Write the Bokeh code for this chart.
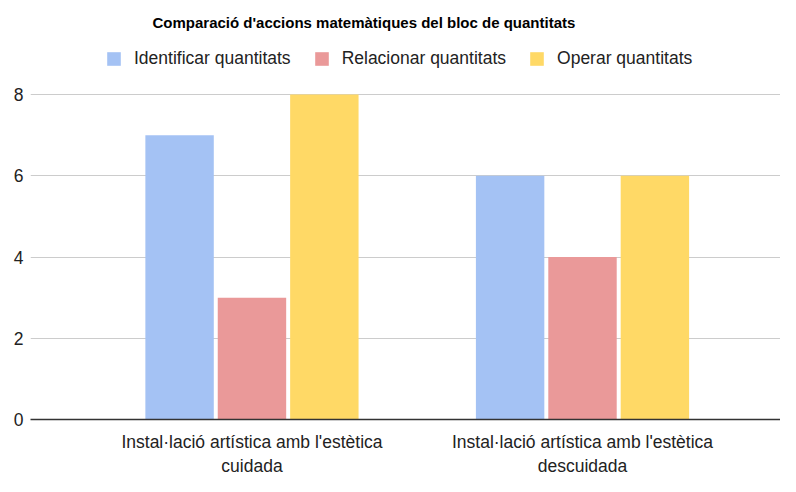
from bokeh.plotting import figure
from bokeh.models import Range1d, FixedTicker, Legend, LegendItem, ColumnDataSource
from bokeh.embed import file_html
from bokeh.resources import INLINE

categories = ["Instal·lació artística amb l'estètica\ncuidada",
              "Instal·lació artística amb l'estètica\ndescuidada"]
series_names = ["Identificar quantitats", "Relacionar quantitats", "Operar quantitats"]
identificar = [7, 6]
relacionar = [3, 4]
operar = [8, 6]
y_ticks = [0, 2, 4, 6, 8]
title_text = "Comparació d'accions matemàtiques del bloc de quantitats"

colors = ["#a4c2f4", "#ea9999", "#ffd966"]
FONT = "Liberation Sans"
TEXT = "#222222"

x_centers = [i + 0.5 for i in range(len(categories))]
offsets = [-0.219, 0.0, 0.219]
bar_w = 0.207

FRAME_H = 378
p = figure(frame_width=750, frame_height=FRAME_H, output_backend="svg", toolbar_location=None,
           x_range=Range1d(-0.170, 2.099), y_range=Range1d(0, 9.305),
           min_border_left=30, min_border_right=0, min_border_top=40,
           min_border_bottom=0)
p.outline_line_color = None

p.title.text = title_text
p.title.align = "left"
p.title.offset = 122
p.title.standoff = 22
p.title.text_font = FONT
p.title.text_font_size = "15px"
p.title.text_font_style = "bold"
p.title.text_color = "#000000"

renderers = []
for vals, off, col in zip([identificar, relacionar, operar], offsets, colors):
    src = ColumnDataSource(dict(x=[c + off for c in x_centers], top=vals))
    r = p.vbar(x="x", top="top", width=bar_w, source=src, fill_color=col,
               line_color=None)
    renderers.append(r)

p.xaxis.ticker = FixedTicker(ticks=x_centers)
p.xaxis.major_label_overrides = {x: c for x, c in zip(x_centers, categories)}
p.xaxis.major_tick_line_color = None
p.xaxis.major_tick_out = 0
p.xaxis.major_tick_in = 0
p.xaxis.minor_tick_line_color = None
p.xaxis.axis_line_color = "#333333"
p.xaxis.axis_line_width = 1.5
p.xaxis.major_label_text_font = FONT
p.xaxis.major_label_text_font_size = "17.5px"
p.xaxis.major_label_text_color = TEXT
p.xaxis.major_label_standoff = 12

p.yaxis.ticker = FixedTicker(ticks=y_ticks)
p.yaxis.axis_line_color = None
p.yaxis.major_tick_line_color = None
p.yaxis.major_tick_out = 0
p.yaxis.major_tick_in = 0
p.yaxis.minor_tick_line_color = None
p.yaxis.major_label_text_font = FONT
p.yaxis.major_label_text_font_size = "17.5px"
p.yaxis.major_label_text_color = TEXT
p.yaxis.major_label_standoff = 7

p.xgrid.visible = False
p.ygrid.ticker = FixedTicker(ticks=y_ticks)
p.ygrid.grid_line_color = "#cccccc"

legend = Legend(items=[LegendItem(label=n, renderers=[r]) for n, r in zip(series_names, renderers)],
                orientation="horizontal", location=(75, 350),
                label_text_font=FONT, label_text_font_size="17.5px", label_text_color=TEXT,
                glyph_width=17, glyph_height=17, label_standoff=12, spacing=22,
                padding=0, margin=0, border_line_color=None, background_fill_alpha=0)
p.add_layout(legend, "center")

open("out.html", "w").write(file_html(p, INLINE))
